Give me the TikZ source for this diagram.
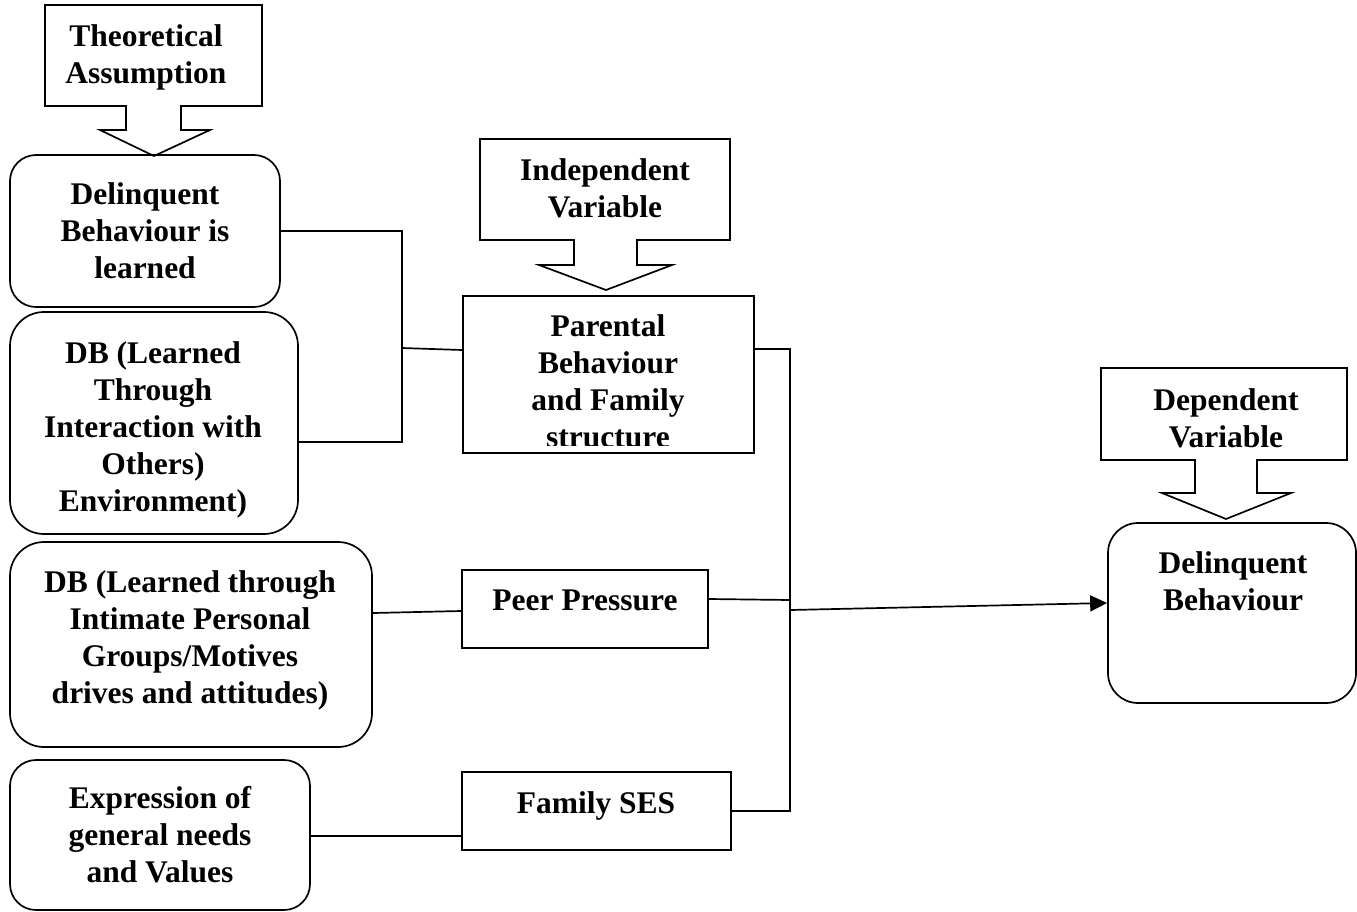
\documentclass[tikz,border=0pt]{standalone}
\usepackage{fontspec}
\setmainfont{Liberation Serif}
\usetikzlibrary{calc}
\usetikzlibrary{arrows.meta}
\tikzset{every picture/.style={line width=1.7pt}}
\tikzset{
  sqbox/.style={draw, rectangle, inner sep=0pt},
  rndbox/.style={draw, rectangle, rounded corners=26pt, inner sep=0pt},
  lbl/.style={inner sep=0pt, align=center, font=\bfseries\fontsize{31.5}{37}\selectfont},
}

\begin{document}
\begin{tikzpicture}[x=1pt,y=1pt,yscale=-1,xscale=1]
\useasboundingbox (0,0) rectangle (1357,911);

%Shape: Down Arrow Callout [Theoretical Assumption]
\draw (45,5) -- (262,5) -- (262,106) -- (181,106) -- (181,130) -- (210,130) -- (154,156) -- (100,130) -- (126,130) -- (126,106) -- (45,106) -- cycle ;
%Shape: Down Arrow Callout [Independent Variable]
\draw (480,139) -- (730,139) -- (730,240) -- (637,240) -- (637,265) -- (672,265) -- (606,290) -- (539,265) -- (574,265) -- (574,240) -- (480,240) -- cycle ;
%Shape: Down Arrow Callout [Dependent Variable]
\draw (1101,368) -- (1347,368) -- (1347,460) -- (1257,460) -- (1257,493) -- (1291,493) -- (1226,519) -- (1162,493) -- (1195,493) -- (1195,460) -- (1101,460) -- cycle ;

%Boxes
\node[rndbox, minimum width=270pt, minimum height=152pt] (learned) at (145,231) {};
\node[rndbox, minimum width=288pt, minimum height=222pt, rounded corners=34pt] (interact) at (154,423) {};
\node[rndbox, minimum width=362pt, minimum height=205pt, rounded corners=34pt] (intimate) at (191,644.5) {};
\node[rndbox, minimum width=300pt, minimum height=150pt] (needs) at (160,835) {};
\node[sqbox, minimum width=291pt, minimum height=157pt] (parental) at (608.5,374.5) {};
\node[sqbox, minimum width=246pt, minimum height=78pt] (peer) at (585,609) {};
\node[sqbox, minimum width=269pt, minimum height=78pt] (ses) at (596.5,811) {};
\node[rndbox, minimum width=248pt, minimum height=180pt, rounded corners=30pt] (delinq) at (1232,613) {};

% Text Nodes
\node[lbl] (theory-t) at (146,57) {Theoretical\\Assumption};
\node[lbl] (indep-t) at (605,188) {Independent\\Variable};
\node[lbl] (dep-t) at (1226,418) {Dependent\\Variable};
\node[lbl] (learned-t) at (145,231) {Delinquent\\Behaviour is\\learned};
\node[lbl] (interact-t) at (153,430) {DB (Learned\\Through\\Interaction with\\Others)\\Environment)};
\node[lbl] (intimate-t) at (190,640) {DB (Learned through\\Intimate Personal\\Groups/Motives\\drives and attitudes)};
\node[lbl] (needs-t) at (160,835) {Expression of\\general needs\\and Values};
\begin{scope}
\clip (463,296) rectangle (754,445);
\node[lbl] (parental-t) at (608,381.5) {Parental\\Behaviour\\and Family\\structure};
\end{scope}
\node[lbl] (peer-t) at (585,600) {Peer Pressure};
\node[lbl] (ses-t) at (596,806) {Family SES};
\node[lbl] (delinq-t) at (1233,581) {Delinquent\\Behaviour};

% Connectors
\coordinate (jl) at (402,348);
\coordinate (jr) at (790,349);
\coordinate (jp) at (790,600);
\coordinate (ja) at (790,610);
\draw (learned.east) -| (jl) |- ($(interact.east)+(0,19)$);
\draw (jl) -- ($(parental.west)+(0,-24.5)$);
\draw ($(parental.east)+(0,-25.5)$) -| (jr) |- (ses.east);
\draw ($(peer.east)+(0,-10)$) -- (jp);
\draw ($(intimate.east)+(0,-31.5)$) -- ($(peer.west)+(0,2)$);
\draw ($(needs.east)+(0,1)$) -- ($(ses.west)+(0,25)$);
\draw[-{Triangle[length=17pt,width=16pt]}] (ja) -- ($(delinq.west)+(0,-10)$);

\end{tikzpicture}
\end{document}
